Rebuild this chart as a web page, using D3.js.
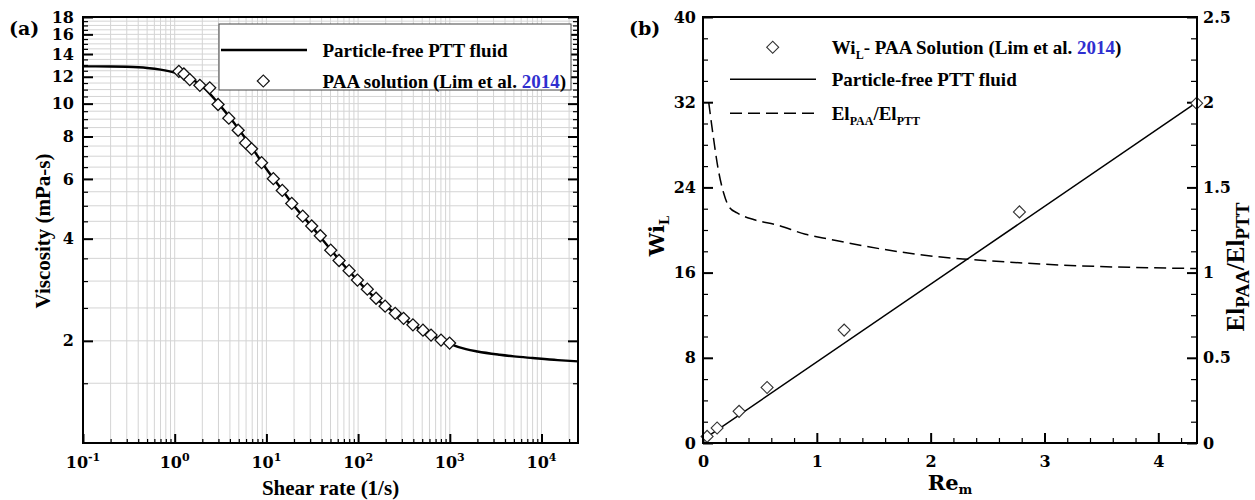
<!DOCTYPE html>
<html>
<head>
<meta charset="utf-8">
<script src="https://cdn.jsdelivr.net/npm/d3@7"></script>
<style>
  html, body { margin: 0; padding: 0; background: #fff; }
  svg { display: block; }
</style>
</head>
<body>
<svg id="fig" width="1255" height="500"></svg>
<script>
// ---------- Panel (a): shear viscosity ----------
const shearRatePAA = [1.11, 1.26, 1.46, 1.88, 2.41, 2.97, 3.89, 4.92, 5.93, 6.89, 8.86, 11.9, 14.9, 18.9, 24.9, 31.2,
                      38.7, 50.3, 62.0, 79.7, 98.3, 126, 157, 197, 254, 313, 396, 510, 624, 802, 995];
const viscosityPAA = [12.45, 12.23, 11.77, 11.32, 11.13, 9.94, 9.06, 8.35, 7.66, 7.36, 6.70, 6.01, 5.55, 5.08, 4.66, 4.36,
                      4.08, 3.70, 3.45, 3.22, 3.02, 2.84, 2.67, 2.53, 2.41, 2.33, 2.23, 2.15, 2.08, 2.01, 1.97];
const shearRatePTT = [0.1, 0.2, 0.3, 0.5, 0.7, 1, 1.5, 2, 3, 4, 5, 7, 10, 15, 20, 30, 50, 70, 100, 150, 200, 300,
                      500, 700, 1000, 1500, 2000, 3500, 5000, 8000, 15000, 25000];
const viscosityPTT = [12.88, 12.87, 12.84, 12.74, 12.6, 12.35, 11.85, 11.25, 10.0, 9.1, 8.4, 7.4, 6.42, 5.55, 5.0, 4.4,
                      3.72, 3.34, 3.0, 2.69, 2.53, 2.34, 2.15, 2.05, 1.96, 1.89, 1.86, 1.82, 1.80, 1.78, 1.755, 1.74];
const shearTicks = [0.1, 1, 10, 100, 1000, 10000];
const shearTickExp = ["-1", "0", "1", "2", "3", "4"];
const viscTicks = [2, 4, 6, 8, 10, 12, 14, 16, 18];

// ---------- Panel (b): Weissenberg number and elasticity ratio ----------
const reExp = [0.036, 0.124, 0.317, 0.563, 1.24, 2.78, 4.337];
const wiExp = [0.62, 1.41, 2.97, 5.22, 10.6, 21.7, 31.9];
const rePTT = [0.04, 4.34];
const wiPTT = [0.6, 32.0];
const reRatio = [0.05, 0.09, 0.13, 0.18, 0.23, 0.3, 0.45, 0.65, 0.9, 1.12, 1.58, 2.05, 2.33, 2.82, 3.29, 3.75, 4.34];
const elRatio = [2.0, 1.80, 1.62, 1.47, 1.385, 1.35, 1.31, 1.28, 1.225, 1.195, 1.137, 1.094, 1.078, 1.056, 1.04, 1.031, 1.024];
const wiTicks = [0, 8, 16, 24, 32, 40];
const ratioTicks = [0, 0.5, 1, 1.5, 2, 2.5];
const ratioTickLabels = ["0", "0.5", "1", "1.5", "2", "2.5"];
const reTicks = [0, 1, 2, 3, 4];

const SERIF = "'Liberation Serif', 'Times New Roman', serif";
const TICKF = "'DejaVu Serif', serif";
const BLUE = "#2f2fcf";
const TICK_SIZE = 16;

const svg = d3.select("#fig");

function diamond(sel, size) {
  return sel.attr("d", d3.symbol(d3.symbolSquare, size)());
}
function styleAxis(g, width) {
  g.select(".domain").remove();
  g.selectAll(".tick line").attr("stroke", "#000").attr("stroke-width", width);
  g.selectAll(".tick text").attr("font-family", TICKF).attr("font-weight", "bold")
    .attr("font-size", TICK_SIZE).attr("fill", "#000");
}

// =============== Panel (a) ===============
const A = { l: 83, r: 578, t: 17, b: 443 };
const xA = d3.scaleLog().domain([0.1, 25000]).range([A.l, A.r]);
const yA = d3.scaleLog().domain([1, 18]).range([A.b, A.t]);
const gA = svg.append("g");

// grid positions: every integer multiple inside each decade, every 0.5 in viscosity
const xMinorA = [];
for (let e = -1; e <= 4; e++) for (let k = 1; k <= 9; k++) {
  const v = k * Math.pow(10, e);
  if (v > 0.1 * 1.0001 && v < 25000) xMinorA.push(v);
}
const yGridA = d3.range(1.5, 18, 0.5);

gA.append("g").selectAll("line").data(xMinorA).join("line")
  .attr("x1", d => xA(d)).attr("x2", d => xA(d)).attr("y1", A.t).attr("y2", A.b)
  .attr("stroke", "#d4d4d4").attr("stroke-width", 1);
gA.append("g").selectAll("line").data(yGridA).join("line")
  .attr("x1", A.l).attr("x2", A.r).attr("y1", d => yA(d)).attr("y2", d => yA(d))
  .attr("stroke", "#d4d4d4").attr("stroke-width", 1);

// ticks (inward)
const xMinorTicksA = xMinorA.filter(v => !shearTicks.some(t => Math.abs(t - v) / t < 1e-6));
gA.append("g").attr("transform", `translate(0,${A.b})`)
  .call(d3.axisBottom(xA).tickValues(shearTicks).tickSize(-9).tickFormat(""))
  .call(g => styleAxis(g, 2));
gA.append("g").attr("transform", `translate(0,${A.b})`)
  .call(d3.axisBottom(xA).tickValues(xMinorTicksA).tickSize(-4).tickFormat(""))
  .call(g => styleAxis(g, 1.2));
const yMinorTicksA = yGridA.filter(v => !viscTicks.includes(v));
gA.append("g").attr("transform", `translate(${A.l},0)`)
  .call(d3.axisLeft(yA).tickValues(viscTicks).tickSize(-10).tickPadding(9).tickFormat(d => d))
  .call(g => styleAxis(g, 2));
gA.append("g").attr("transform", `translate(${A.l},0)`)
  .call(d3.axisLeft(yA).tickValues(yMinorTicksA).tickSize(-5).tickFormat(""))
  .call(g => styleAxis(g, 1.2));
gA.append("g").attr("transform", `translate(${A.r},0)`)
  .call(d3.axisRight(yA).tickValues(viscTicks).tickSize(-10).tickFormat(""))
  .call(g => styleAxis(g, 2));
gA.append("g").attr("transform", `translate(${A.r},0)`)
  .call(d3.axisRight(yA).tickValues(yMinorTicksA).tickSize(-5).tickFormat(""))
  .call(g => styleAxis(g, 1.2));

// power-of-ten labels
const xLab = gA.append("g").selectAll("text").data(shearTicks).join("text")
  .attr("x", d => xA(d)).attr("y", 468).attr("text-anchor", "middle")
  .attr("font-family", TICKF).attr("font-weight", "bold").attr("font-size", TICK_SIZE);
xLab.append("tspan").text("10");
xLab.append("tspan").attr("dy", -7).attr("font-size", 11).text((d, i) => shearTickExp[i]);

// model curve
gA.append("path")
  .datum(shearRatePTT.map((x, i) => [x, viscosityPTT[i]]))
  .attr("fill", "none").attr("stroke", "#000").attr("stroke-width", 2.4)
  .attr("d", d3.line().x(d => xA(d[0])).y(d => yA(d[1])).curve(d3.curveMonotoneX));

// measured points
gA.append("g").selectAll("path").data(shearRatePAA.map((x, i) => [x, viscosityPAA[i]])).join("path")
  .call(diamond, 72)
  .attr("transform", d => `translate(${xA(d[0])},${yA(d[1])}) rotate(45)`)
  .attr("fill", "#fff").attr("stroke", "#111").attr("stroke-width", 1.3);

// frame
gA.append("rect").attr("x", A.l).attr("y", A.t).attr("width", A.r - A.l).attr("height", A.b - A.t)
  .attr("fill", "none").attr("stroke", "#000").attr("stroke-width", 2);

// legend
const legA = gA.append("g");
legA.append("rect").attr("x", 219).attr("y", 24).attr("width", 352).attr("height", 66)
  .attr("fill", "#fff").attr("stroke", "#444").attr("stroke-width", 1);
legA.append("line").attr("x1", 221).attr("x2", 307).attr("y1", 50).attr("y2", 50)
  .attr("stroke", "#000").attr("stroke-width", 2.4);
legA.append("text").attr("x", 322.5).attr("y", 56.5)
  .attr("font-family", SERIF).attr("font-weight", "bold").attr("font-size", 19)
  .text("Particle-free PTT fluid");
legA.append("path").call(diamond, 72)
  .attr("transform", "translate(263.3,81) rotate(45)")
  .attr("fill", "#fff").attr("stroke", "#111").attr("stroke-width", 1.2);
const lt2 = legA.append("text").attr("x", 322.5).attr("y", 87.5)
  .attr("font-family", SERIF).attr("font-weight", "bold").attr("font-size", 19);
lt2.append("tspan").text("PAA solution (Lim et al. ");
lt2.append("tspan").attr("fill", BLUE).text("2014");
lt2.append("tspan").text(")");

// titles
gA.append("text").attr("transform", "translate(50,231) rotate(-90)").attr("text-anchor", "middle")
  .attr("font-family", SERIF).attr("font-weight", "bold").attr("font-size", 21)
  .text("Viscosity (mPa-s)");
gA.append("text").attr("x", 330.5).attr("y", 495).attr("text-anchor", "middle")
  .attr("font-family", SERIF).attr("font-weight", "bold").attr("font-size", 21)
  .text("Shear rate (1/s)");
gA.append("text").attr("x", 9).attr("y", 35)
  .attr("font-family", TICKF).attr("font-weight", "bold").attr("font-size", 19).text("(a)");

// =============== Panel (b) ===============
const B = { l: 703, r: 1197, t: 17, b: 443 };
const xB = d3.scaleLinear().domain([0, 4.34]).range([B.l, B.r]);
const yB = d3.scaleLinear().domain([0, 40]).range([B.b, B.t]);
const yR = d3.scaleLinear().domain([0, 2.5]).range([B.b, B.t]);
const gB = svg.append("g");

const wiMinor = d3.range(2, 40, 2).filter(v => v % 8 !== 0);
const ratioMinor = d3.range(0.125, 2.5, 0.125).filter(v => Math.abs(v * 2 - Math.round(v * 2)) > 1e-6);
const reMinor = d3.range(1, 22).map(k => k * 0.2).filter(v => Math.abs(v - Math.round(v)) > 1e-6 && v < 4.34);

gB.append("g").attr("transform", `translate(${B.l},0)`)
  .call(d3.axisLeft(yB).tickValues(wiTicks).tickSize(-10).tickPadding(7).tickFormat(d => d))
  .call(g => styleAxis(g, 2));
gB.append("g").attr("transform", `translate(${B.l},0)`)
  .call(d3.axisLeft(yB).tickValues(wiMinor).tickSize(-5).tickFormat(""))
  .call(g => styleAxis(g, 1.2));
gB.append("g").attr("transform", `translate(${B.r},0)`)
  .call(d3.axisRight(yR).tickValues(ratioTicks).tickSize(-10).tickPadding(6)
    .tickFormat((d, i) => ratioTickLabels[i]))
  .call(g => styleAxis(g, 2));
gB.append("g").attr("transform", `translate(${B.r},0)`)
  .call(d3.axisRight(yR).tickValues(ratioMinor).tickSize(-6).tickFormat(""))
  .call(g => styleAxis(g, 1.2));
gB.append("g").attr("transform", `translate(0,${B.b})`)
  .call(d3.axisBottom(xB).tickValues(reTicks).tickSize(-10).tickPadding(13).tickFormat(d => d))
  .call(g => styleAxis(g, 2));
gB.append("g").attr("transform", `translate(0,${B.b})`)
  .call(d3.axisBottom(xB).tickValues(reMinor).tickSize(-5).tickFormat(""))
  .call(g => styleAxis(g, 1.2));

// elasticity ratio (right axis)
gB.append("path")
  .datum(reRatio.map((x, i) => [x, elRatio[i]]))
  .attr("fill", "none").attr("stroke", "#000").attr("stroke-width", 1.5)
  .attr("stroke-dasharray", "12,6")
  .attr("d", d3.line().x(d => xB(d[0])).y(d => yR(d[1])).curve(d3.curveMonotoneX));

// PTT model line
gB.append("path")
  .datum(rePTT.map((x, i) => [x, wiPTT[i]]))
  .attr("fill", "none").attr("stroke", "#000").attr("stroke-width", 1.5)
  .attr("d", d3.line().x(d => xB(d[0])).y(d => yB(d[1])));

// PAA data
gB.append("g").selectAll("path").data(reExp.map((x, i) => [x, wiExp[i]])).join("path")
  .call(diamond, 72)
  .attr("transform", d => `translate(${xB(d[0])},${yB(d[1])}) rotate(45)`)
  .attr("fill", "#fff").attr("stroke", "#333").attr("stroke-width", 1.1);

gB.append("rect").attr("x", B.l).attr("y", B.t).attr("width", B.r - B.l).attr("height", B.b - B.t)
  .attr("fill", "none").attr("stroke", "#000").attr("stroke-width", 2);

// legend
const legB = gB.append("g").attr("font-family", SERIF).attr("font-weight", "bold").attr("font-size", 19);
legB.append("path").call(diamond, 72)
  .attr("transform", "translate(772.7,47.3) rotate(45)")
  .attr("fill", "#fff").attr("stroke", "#333").attr("stroke-width", 1.1);
const lb1 = legB.append("text").attr("x", 831.7).attr("y", 53.5);
lb1.append("tspan").text("Wi");
lb1.append("tspan").attr("font-size", 12).attr("dy", 5).text("L");
lb1.append("tspan").attr("dy", -5).text("- PAA Solution (Lim et al. ");
lb1.append("tspan").attr("fill", BLUE).text("2014");
lb1.append("tspan").text(")");
legB.append("line").attr("x1", 730).attr("x2", 816).attr("y1", 79.3).attr("y2", 79.3)
  .attr("stroke", "#000").attr("stroke-width", 1.5);
legB.append("text").attr("x", 831.7).attr("y", 85.5).text("Particle-free PTT fluid");
legB.append("line").attr("x1", 730).attr("x2", 816).attr("y1", 113.3).attr("y2", 113.3)
  .attr("stroke", "#000").attr("stroke-width", 1.5).attr("stroke-dasharray", "12,6");
const lb3 = legB.append("text").attr("x", 831.7).attr("y", 119.5);
lb3.append("tspan").text("El");
lb3.append("tspan").attr("font-size", 12).attr("dy", 5).text("PAA");
lb3.append("tspan").attr("dy", -5).text("/El");
lb3.append("tspan").attr("font-size", 12).attr("dy", 5).text("PTT");

// titles
const tWi = gB.append("text").attr("transform", "translate(664,236) rotate(-90)").attr("text-anchor", "middle")
  .attr("font-family", TICKF).attr("font-weight", "bold").attr("font-size", 21);
tWi.append("tspan").text("Wi");
tWi.append("tspan").attr("font-size", 13).attr("dy", 5).text("L");
const tRe = gB.append("text").attr("x", 950).attr("y", 490).attr("text-anchor", "middle")
  .attr("font-family", TICKF).attr("font-weight", "bold").attr("font-size", 21);
tRe.append("tspan").text("Re");
tRe.append("tspan").attr("font-size", 13).attr("dy", 4).text("m");
const tEl = gB.append("text").attr("transform", "translate(1244,267) rotate(-90)").attr("text-anchor", "middle")
  .attr("font-family", SERIF).attr("font-weight", "bold").attr("font-size", 25);
tEl.append("tspan").text("El");
tEl.append("tspan").attr("font-size", 19).attr("dy", 5).text("PAA");
tEl.append("tspan").attr("dy", -5).text("/El");
tEl.append("tspan").attr("font-size", 19).attr("dy", 5).text("PTT");
gB.append("text").attr("x", 629).attr("y", 35)
  .attr("font-family", TICKF).attr("font-weight", "bold").attr("font-size", 19).text("(b)");
</script>
</body>
</html>
